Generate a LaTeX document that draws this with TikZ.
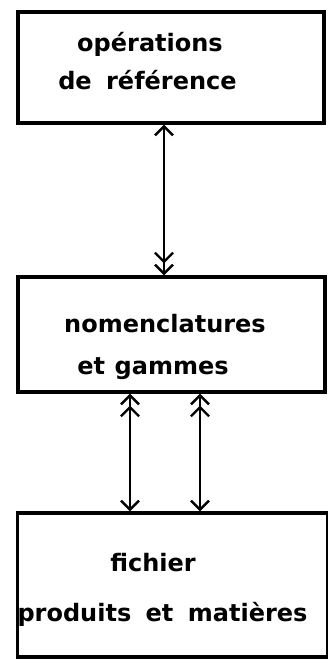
\documentclass[tikz,border=0pt]{standalone}
\usepackage{fontspec}
\setmainfont{DejaVu Sans}
\usetikzlibrary{arrows.meta}
\begin{document}
\begin{tikzpicture}[x=1pt,y=-1pt,
  box/.style={draw, line width=3.4pt, minimum width=#1, inner sep=0pt},
  lbl/.style={font=\bfseries\fontsize{24}{28}\selectfont, inner sep=0pt, anchor=base},
  link/.style={line width=2.2pt},
  one/.tip={Straight Barb[length=9pt,width=18pt,line width=2.4pt]},
  two/.tip={Straight Barb[length=9pt,width=18pt,line width=2.4pt] Straight Barb[length=9pt,width=18pt,line width=2.4pt]}]
\useasboundingbox (0,0) rectangle (328,662);
\node[box=306pt, minimum height=111pt] (b1) at (171,67.5) {};
\node[box=307pt, minimum height=115pt] (b2) at (171.5,334.5) {};
\node[box=310pt, minimum height=144pt] (b3) at (172.5,585) {};
\node[lbl] (t1) at (150,51) {opérations};
\node[lbl] (t2) at (147.5,89) {de\hspace{0.6em}référence};
\node[lbl] (t3) at (165,332) {nomenclatures};
\node[lbl] (t4) at (153,374) {et\hspace{0.4em}gammes};
\node[lbl] (t5) at (153,571) {fichier};
\node[lbl] (t6) at (162.5,621) {produits\hspace{0.6em}et\hspace{0.6em}matières};
\coordinate (xa) at (164,0);
\coordinate (xb) at (130,0);
\coordinate (xc) at (200,0);
\draw[link, {one}-{two}] (b1.south -| xa) -- (b2.north -| xa);
\draw[link, {two}-{one}] (b2.south -| xb) -- (b3.north -| xb);
\draw[link, {two}-{one}] (b2.south -| xc) -- (b3.north -| xc);
\end{tikzpicture}
\end{document}
